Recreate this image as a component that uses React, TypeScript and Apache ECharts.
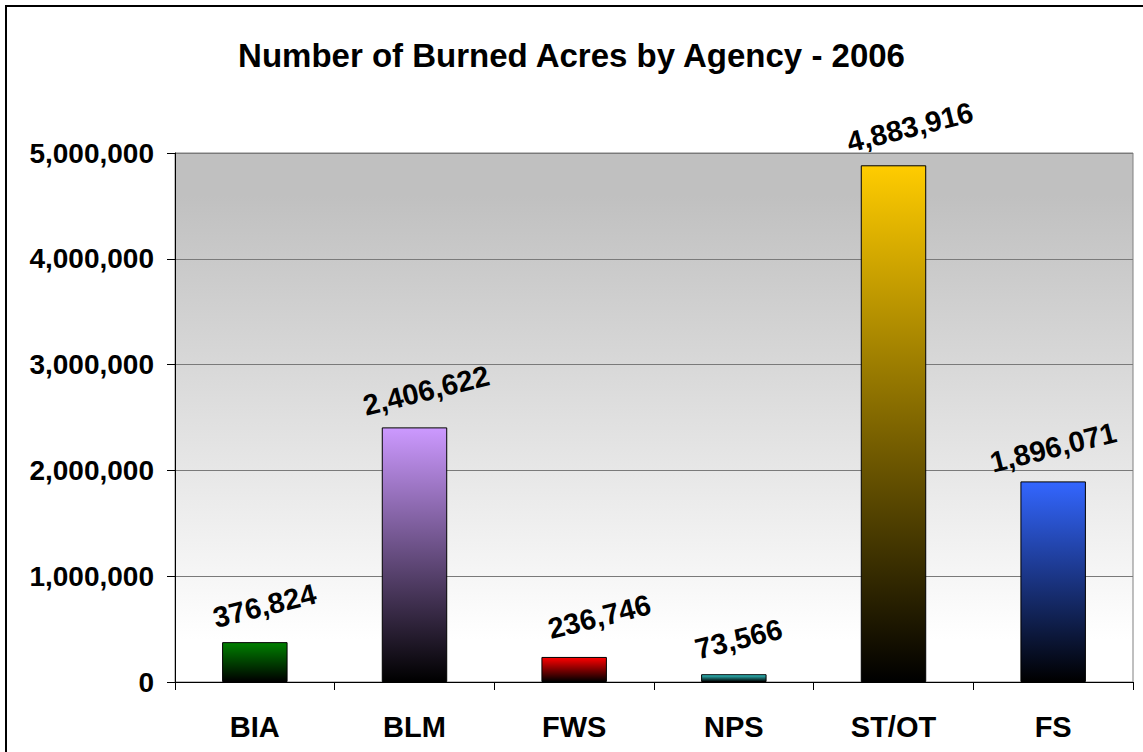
import React, { useEffect, useRef } from "react";
import * as echarts from "echarts";

const categories = ["BIA", "BLM", "FWS", "NPS", "ST/OT", "FS"];
const acres = [376824, 2406622, 236746, 73566, 4883916, 1896071];
const barTopColors = ["#008000", "#cc99ff", "#ff0000", "#33cccc", "#ffcc00", "#3366ff"];
const yTicks = [0, 1000000, 2000000, 3000000, 4000000, 5000000];
const labelShiftX = [10, 12, 26, 5, 17, 0];

const FONT = "'Liberation Sans', Arial, sans-serif";

function fmt(v: number): string {
  return v.toString().replace(/\B(?=(\d{3})+(?!\d))/g, ",");
}

export default function App() {
  const ref = useRef<HTMLDivElement>(null);
  useEffect(() => {
    if (!ref.current) return;
    const chart = echarts.init(ref.current, null, { renderer: "svg" });
    const data = acres.map((v, i) => ({
      value: v,
      itemStyle: {
        color: new echarts.graphic.LinearGradient(0, 0, 0, 1, [
          { offset: 0, color: barTopColors[i] },
          { offset: 1, color: "#000000" },
        ]),
      },
      label: { offset: [labelShiftX[i], 0] },
    }));
    chart.setOption({
      animation: false,
      backgroundColor: "#ffffff",
      title: {
        text: "Number of Burned Acres by Agency - 2006",
        left: "center",
        top: 34,
        textStyle: { fontFamily: FONT, fontWeight: "bold", fontSize: 33, color: "#000" },
      },
      graphic: [
        {
          type: "rect",
          shape: { x: 6, y: 6, width: 1160, height: 780 },
          style: { fill: "none", stroke: "#000", lineWidth: 2 },
          silent: true,
        },
      ],
      grid: {
        left: 175,
        right: 10,
        top: 153,
        bottom: 70,
        show: true,
        borderColor: "#808080",
        borderWidth: 1,
        backgroundColor: new echarts.graphic.LinearGradient(0, 0, 0, 1, [
          { offset: 0, color: "#c0c0c0" },
          { offset: 0.08, color: "#c0c0c0" },
          { offset: 0.92, color: "#ffffff" },
          { offset: 1, color: "#ffffff" },
        ]),
      },
      xAxis: {
        type: "category",
        data: categories,
        axisLine: { lineStyle: { color: "#000", width: 1 } },
        axisTick: { show: true, length: 8, interval: 0, alignWithLabel: false, lineStyle: { color: "#000" } },
        axisLabel: {
          interval: 0,
          margin: 30,
          fontFamily: FONT,
          fontWeight: "bold",
          fontSize: 29,
          color: "#000",
        },
        splitLine: { show: false },
      },
      yAxis: {
        type: "value",
        min: yTicks[0],
        max: yTicks[yTicks.length - 1],
        interval: yTicks[1] - yTicks[0],
        axisLine: { show: true, lineStyle: { color: "#000", width: 1 } },
        axisTick: { show: true, length: 8, lineStyle: { color: "#000" } },
        axisLabel: {
          margin: 21,
          fontFamily: FONT,
          fontWeight: "bold",
          fontSize: 28,
          color: "#000",
          formatter: (v: number) => fmt(v),
        },
        splitLine: { show: true, lineStyle: { color: "#7a7a7a", width: 1 } },
      },
      series: [
        {
          type: "bar",
          data,
          barWidth: "41%",
          itemStyle: { borderColor: "#000", borderWidth: 1 },
          label: {
            show: true,
            position: "top",
            distance: 34,
            rotate: 14,
            align: "center",
            verticalAlign: "middle",
            fontFamily: FONT,
            fontWeight: "bold",
            fontSize: 29,
            color: "#000",
            formatter: (p: any) => fmt(p.value),
          },
        },
      ],
    });
    return () => chart.dispose();
  }, []);
  return (
    <div
      ref={ref}
      style={{ position: "fixed", left: 0, top: 0, width: 1143, height: 752 }}
    />
  );
}
